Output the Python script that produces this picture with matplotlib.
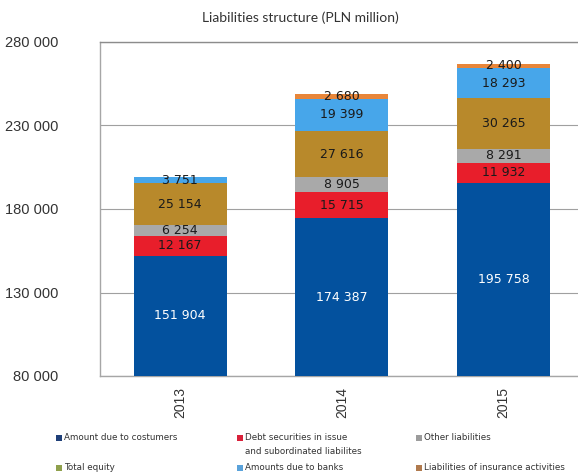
import matplotlib
matplotlib.use("Agg")
import matplotlib.pyplot as plt
from matplotlib.patches import Rectangle
import numpy as np

years = ["2013", "2014", "2015"]
series_names = [
    "Amount due to costumers",
    "Debt securities in issue\nand subordinated liabilites",
    "Other liabilities",
    "Total equity",
    "Amounts due to banks",
    "Liabilities of insurance activities",
]
amount_due_customers = [151904, 174387, 195758]
debt_securities = [12167, 15715, 11932]
other_liabilities = [6254, 8905, 8291]
total_equity = [25154, 27616, 30265]
amounts_due_banks = [3751, 19399, 18293]
insurance_liabilities = [0, 2680, 2400]

series = [amount_due_customers, debt_securities, other_liabilities,
          total_equity, amounts_due_banks, insurance_liabilities]
bar_colors = ["#03519E", "#E81E2B", "#A9A9A9", "#B8892B", "#47A6EA", "#E8863A"]
legend_colors = ["#1F3F78", "#D9213A", "#9C9C9C", "#8FA04C", "#5AA2DA", "#B07A4E"]
label_colors = ["white", "#1a1a1a", "#1a1a1a", "#1a1a1a", "#1a1a1a", "#1a1a1a"]
y_ticks = [80000, 130000, 180000, 230000, 280000]
y_min, y_max = 80000, 280000

W, H = 578, 474
fig = plt.figure(figsize=(W / 100, H / 100), dpi=100)
ax = fig.add_axes([100 / W, 1 - 376 / H, 478 / W, (376 - 42) / H])

x = np.arange(len(years))
bottom = np.zeros(len(years))
for vals, col, lc in zip(series, bar_colors, label_colors):
    vals = np.array(vals, dtype=float)
    ax.bar(x, vals, width=0.575, bottom=bottom, color=col, zorder=3, linewidth=0)
    for xi, v, b in zip(x, vals, bottom):
        if v > 0:
            lo = max(b, y_min)
            ax.text(xi, (lo + b + v) / 2, f"{int(v):,}".replace(",", " "), ha="center", va="center",
                    fontsize=9, color=lc, zorder=4, family="DejaVu Sans")
    bottom += vals

ax.set_ylim(y_min, y_max)
ax.set_xlim(-0.495, 2.46)
ax.set_yticks(y_ticks)
ax.set_yticklabels([f"{t:,}".replace(",", " ") for t in y_ticks],
                   fontsize=10.5, color="#333333", family="Liberation Sans")
ax.set_xticks(x)
ax.set_xticklabels(years, rotation=90, fontsize=10, color="#333333", family="Liberation Sans")
ax.tick_params(axis="both", length=0)
ax.tick_params(axis="y", pad=30)
ax.tick_params(axis="x", pad=8)
ax.grid(axis="y", color="#A0A0A0", linewidth=0.8, zorder=0)
for s in ["left", "bottom", "top"]:
    ax.spines[s].set_color("#A6A6A6")
    ax.spines[s].set_linewidth(1.0)
ax.spines["top"].set_color("#8C8C8C")
ax.spines["right"].set_visible(False)

fig.text(300 / W, 1 - 18 / H, "Liabilities structure (PLN million)", ha="center", va="center",
         fontsize=10, color="#333333", family="Lato")

# legend (manual layout, 3 columns x 2 rows)
col_x = [56, 237, 416]
row_y = [437, 467]
for i, (name, c) in enumerate(zip(series_names, legend_colors)):
    cx = col_x[i % 3]
    ry = row_y[i // 3]
    fig.patches.append(Rectangle((cx / W, 1 - (ry + 3.5) / H), 6 / W, 6 / H,
                                 transform=fig.transFigure, facecolor=c, edgecolor="none"))
    fig.text((cx + 8) / W, 1 - (ry - 3.5) / H, name, ha="left", va="top", fontsize=6.3,
             color="#333333", family="DejaVu Sans", linespacing=1.6)

fig.savefig("out.png", dpi=100)
